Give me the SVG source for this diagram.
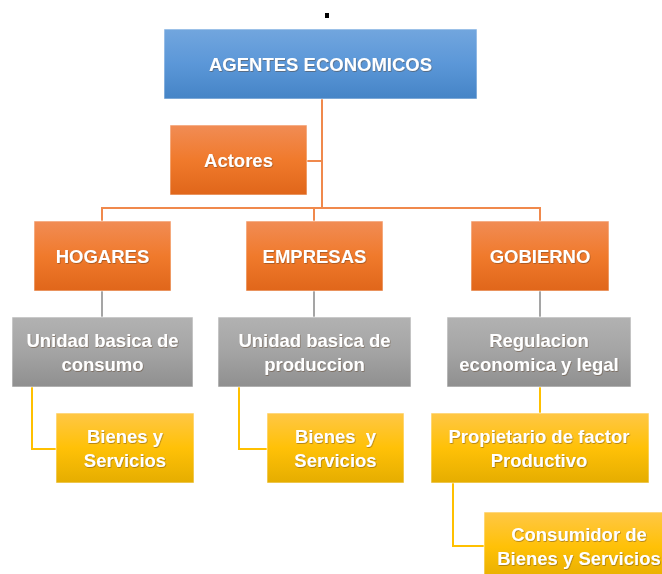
<svg xmlns="http://www.w3.org/2000/svg" width="662" height="574" viewBox="0 0 662 574">
<defs>
<linearGradient id="gBlue" x1="0" y1="0" x2="0" y2="1"><stop offset="0" stop-color="#72a6de"/><stop offset="0.5" stop-color="#5b97d8"/><stop offset="1" stop-color="#4584c6"/></linearGradient>
<linearGradient id="gOrange" x1="0" y1="0" x2="0" y2="1"><stop offset="0" stop-color="#f18c55"/><stop offset="0.5" stop-color="#f07a2c"/><stop offset="1" stop-color="#e0661a"/></linearGradient>
<linearGradient id="gGray" x1="0" y1="0" x2="0" y2="1"><stop offset="0" stop-color="#b2b2b2"/><stop offset="0.5" stop-color="#a4a4a4"/><stop offset="1" stop-color="#8f8f8f"/></linearGradient>
<linearGradient id="gYellow" x1="0" y1="0" x2="0" y2="1"><stop offset="0" stop-color="#ffc746"/><stop offset="0.5" stop-color="#ffc107"/><stop offset="1" stop-color="#e5ad00"/></linearGradient>
<filter id="ts" x="-10%" y="-30%" width="120%" height="160%"><feDropShadow dx="0.6" dy="0.8" stdDeviation="0.7" flood-color="#5a3a20" flood-opacity="0.55"/></filter>
</defs>
<style>
.box{stroke:#ffffff;stroke-opacity:0.6;stroke-width:1}
.b{fill:url(#gBlue)}
.o{fill:url(#gOrange)}
.g{fill:url(#gGray)}
.y{fill:url(#gYellow)}
text{font-family:"Liberation Sans",Arial,sans-serif;font-weight:bold;font-size:18.5px;fill:#ffffff;text-anchor:middle;filter:url(#ts)}
.co{fill:none;stroke:#f0894c;stroke-width:2}
.cg{fill:none;stroke:#a5a5a5;stroke-width:2}
.cy{fill:none;stroke:#ffc000;stroke-width:2}
</style>
<rect x="325" y="13" width="4" height="5" fill="#000000"/>
<g id="connectors">
<path class="co" d="M322 99 V208 M307 161 H322 M102 221 V208 H540 V221 M314 208 V221"/>
<path class="cg" d="M102 291 V317 M314 291 V317 M540 291 V317"/>
<path class="cy" d="M32 387 V449 H56 M239 387 V449 H267 M540 387 V413 M453 483 V546 H484"/>
</g>
<g id="agentes"><rect class="box b" x="164" y="29" width="313" height="70"/><text x="320.5" y="70.5">AGENTES ECONOMICOS</text></g>
<g id="actores"><rect class="box o" x="170" y="125" width="137" height="70"/><text x="238.5" y="167">Actores</text></g>
<g id="hogares"><rect class="box o" x="34" y="221" width="137" height="70"/><text x="102.5" y="262.5">HOGARES</text></g>
<g id="empresas"><rect class="box o" x="246" y="221" width="137" height="70"/><text x="314.5" y="262.5">EMPRESAS</text></g>
<g id="gobierno"><rect class="box o" x="471" y="221" width="138" height="70"/><text x="540" y="262.5">GOBIERNO</text></g>
<g id="consumo"><rect class="box g" x="12" y="317" width="181" height="70"/><text x="102.5" y="347">Unidad basica de</text><text x="102.5" y="371">consumo</text></g>
<g id="produccion"><rect class="box g" x="218" y="317" width="193" height="70"/><text x="314.5" y="347">Unidad basica de</text><text x="314.5" y="371">produccion</text></g>
<g id="regulacion"><rect class="box g" x="447" y="317" width="184" height="70"/><text x="539" y="347">Regulacion</text><text x="539" y="371">economica y legal</text></g>
<g id="bienes1"><rect class="box y" x="56" y="413" width="138" height="70"/><text x="125" y="443">Bienes y</text><text x="125" y="467">Servicios</text></g>
<g id="bienes2"><rect class="box y" x="267" y="413" width="137" height="70"/><text x="335.5" y="443" xml:space="preserve">Bienes  y</text><text x="335.5" y="467">Servicios</text></g>
<g id="propietario"><rect class="box y" x="431" y="413" width="218" height="70"/><text x="539" y="443">Propietario de factor</text><text x="539" y="467">Productivo</text></g>
<g id="consumidor"><rect class="box y" x="484" y="512" width="192" height="70"/><text x="579" y="541">Consumidor de</text><text x="579" y="565">Bienes y Servicios</text></g>
</svg>
